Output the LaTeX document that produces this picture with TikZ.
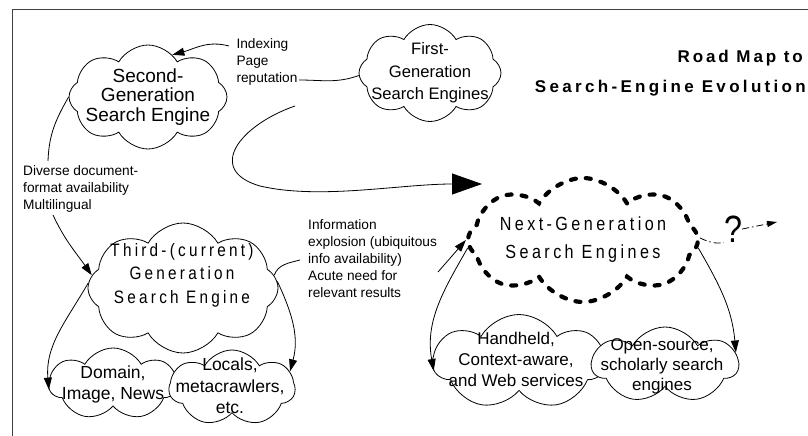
\documentclass[tikz,border=0pt]{standalone}
\usepackage{fontspec}
\setmainfont{Liberation Sans}
\newfontfamily\spfont[LetterSpace=18,FakeStretch=0.85]{Liberation Sans}
\newfontfamily\ttlfonta[LetterSpace=17]{Liberation Sans}
\newfontfamily\ttlfontb[LetterSpace=19.5]{Liberation Sans}
\usetikzlibrary{shapes.symbols,arrows.meta}
\begin{document}
\begin{tikzpicture}[x=1pt,y=1pt,
  cl/.style={cloud, cloud ignores aspect, draw, fill=white, cloud puff arc=120, inner sep=0pt, line width=0.8pt},
  nextcl/.style={cloud, cloud ignores aspect, draw, fill=white, cloud puff arc=120, inner sep=0pt, line width=4.2pt, dash pattern=on 5pt off 10pt, line cap=round},
  txt/.style={inner sep=0pt, align=center},
  lbl/.style={align=left, inner sep=0pt, font=\fontsize{13.7}{17}\selectfont},
  conn/.style={line width=0.8pt},
  tipa/.style={line width=0.8pt, -{Triangle[length=12pt,width=8pt]}},
  bigtip/.style={line width=0.8pt, -{Triangle[length=30pt,width=21pt]}},
  dd/.style={line width=0.8pt, dash pattern=on 7pt off 3pt on 1.5pt off 3pt},
  frame/.style={draw=black!75, line width=1pt}
]
\useasboundingbox (0,0) rectangle (808,-436);
\clip (0,0) rectangle (808,-436);
\fill[white] (0,0) rectangle (808,-436);
\draw[frame] (12,-436) -- (12,-10) -- (808,-10);

% title
\node[inner sep=0pt, anchor=east, font=\ttlfonta\bfseries\fontsize{17}{20}\selectfont] (t1) at (803,-58) {Road Map to};
\node[inner sep=0pt, anchor=east, font=\ttlfontb\bfseries\fontsize{17}{20}\selectfont] (t2) at (806,-88) {Search-Engine Evolution};

% clouds
\node[cl, cloud puffs=8, minimum width=158pt, minimum height=104pt] (second) at (148,-97) {};
\node[txt, font=\fontsize{19}{19.5}\selectfont] (secondt) at (second.center) {Second-\\Generation\\Search Engine};
\node[cl, cloud puffs=8, minimum width=142pt, minimum height=97pt] (first) at (430,-73) {};
\node[txt, font=\fontsize{16.6}{22.5}\selectfont] (firstt) at (first.center) {First-\\Generation\\Search Engines};
\node[cl, cloud puffs=8, minimum width=190pt, minimum height=130pt] (third) at (183,-288) {};
\node[txt, font=\spfont\fontsize{18}{23.5}\selectfont] (thirdt) at (182,-275) {Third-(current)\\Generation\\Search Engine};
\node[cl, cloud puffs=7, minimum width=128pt, minimum height=72pt] (domain) at (113,-384) {};
\node[txt, font=\fontsize{17.5}{21}\selectfont] (domaint) at (domain.center) {Domain,\\Image, News};
\node[cl, cloud puffs=7, minimum width=126pt, minimum height=76pt] (locals) at (232,-388) {};
\node[txt, font=\fontsize{17.5}{21.5}\selectfont] (localst) at (230,-386) {Locals,\\metacrawlers,\\etc.};
\node[nextcl, cloud puffs=8, minimum width=230pt, minimum height=124pt] (next) at (583,-240) {};
\node[txt, font=\spfont\fontsize{19}{28}\selectfont] (nextt) at (next.center) {Next-Generation\\Search Engines};
\node[cl, cloud puffs=7, minimum width=172pt, minimum height=95pt] (hand) at (519,-362) {};
\node[cl, cloud puffs=7, minimum width=146pt, minimum height=76pt] (open) at (665,-365) {};
\node[txt, font=\fontsize{17}{21}\selectfont] (handt) at (516,-359) {Handheld,\\Context-aware,\\and Web services};
\node[txt, font=\fontsize{17}{20}\selectfont] (opent) at (662,-366) {Open-source,\\scholarly search\\engines};

% labels
\node[lbl] (idx) at (267,-61.5) {Indexing\\Page\\reputation};
\node[lbl, anchor=west] (div) at (23,-188.5) {Diverse document-\\format availability\\Multilingual};
\node[lbl, anchor=west] (info) at (308,-259) {Information\\explosion (ubiquitous\\info availability)\\Acute need for\\relevant results};
\node[inner sep=0pt, font=\spfont\fontsize{38}{40}\selectfont] (q) at (733,-229) {?};

% free ends
\coordinate (repend) at (299,-80);
\coordinate (idxstart) at (229,-46);
\coordinate (divtop) at (48,-161);
\coordinate (divbot) at (53,-215);
\coordinate (infoleft) at (300,-260);
\coordinate (inforight) at (438,-272);
\coordinate (bigstart) at (295,-106);
\coordinate (bigmid) at (260,-186);
\coordinate (bigend) at (482,-184);
\coordinate (qend) at (777,-222);

% connectors
\draw[conn] (first.182) to[out=200,in=0] (repend);
\draw[tipa] (idxstart) to[out=165,in=15] (second.60);
\draw[conn] (second.180) to[out=240,in=88] (divtop);
\draw[tipa] (divbot) to[out=-65,in=125] (third.172);
\draw[tipa] (third.177) to[out=240,in=95] (domain.185);
\draw[tipa] (third.4) to[out=-65,in=75] (locals.16);
\draw[conn] (third.8) to[out=70,in=195] (infoleft);
\draw[tipa] (inforight) -- (next.180);
\draw[bigtip] (bigstart) .. controls (240,-125) and (205,-170) .. (bigmid) .. controls (320,-200) and (400,-184) .. (bigend);
\draw[tipa] (next.184) to[out=240,in=100] (hand.186);
\draw[tipa] (next.-4) to[out=-60,in=95] (open.10);
\draw[dd] (next.1) to[out=-25,in=190] (q.south west);
\draw[dd, -{Triangle[length=10pt,width=6pt]}] (q.east) -- (qend);
\end{tikzpicture}
\end{document}
